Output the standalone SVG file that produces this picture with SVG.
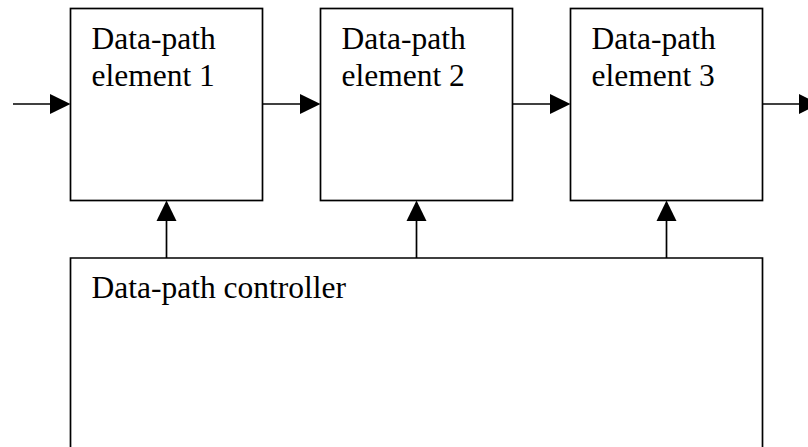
<svg xmlns="http://www.w3.org/2000/svg" width="808" height="447" viewBox="0 0 808 447">
<style>
.box{fill:#fff;stroke:#000;stroke-width:1.7}
.lbl{font-family:"Liberation Serif","Times New Roman",serif;font-size:31.5px;fill:#000}
.wire{stroke:#000;stroke-width:1.7;fill:none}
.head{fill:#000;stroke:none}
</style>
<rect width="808" height="447" fill="#fff"/>
<g id="element1">
<rect class="box" x="70.5" y="8.5" width="192" height="192"/>
<text class="lbl" x="91.5" y="48.5">Data-path</text>
<text class="lbl" x="91.5" y="85.5">element 1</text>
</g>
<g id="element2">
<rect class="box" x="320.5" y="8.5" width="192" height="192"/>
<text class="lbl" x="341.5" y="48.5">Data-path</text>
<text class="lbl" x="341.5" y="85.5">element 2</text>
</g>
<g id="element3">
<rect class="box" x="570.5" y="8.5" width="192" height="192"/>
<text class="lbl" x="591.5" y="48.5">Data-path</text>
<text class="lbl" x="591.5" y="85.5">element 3</text>
</g>
<g id="controller">
<path class="box" d="M70.5,460 V258 H762.5 V460"/>
<text class="lbl" x="91.5" y="297.5">Data-path controller</text>
</g>
<g id="connectors">
<line class="wire" x1="13" y1="104" x2="52" y2="104"/>
<polygon class="head" points="50,94 70.5,104 50,114"/>
<line class="wire" x1="262.5" y1="104" x2="302" y2="104"/>
<polygon class="head" points="300,94 320.5,104 300,114"/>
<line class="wire" x1="512.5" y1="104" x2="552" y2="104"/>
<polygon class="head" points="550,94 570.5,104 550,114"/>
<line class="wire" x1="762.5" y1="104" x2="802" y2="104"/>
<polygon class="head" points="799,94 819.5,104 799,114"/>
<line class="wire" x1="166.5" y1="258" x2="166.5" y2="218"/>
<polygon class="head" points="156.5,221 166.5,200.5 176.5,221"/>
<line class="wire" x1="416.5" y1="258" x2="416.5" y2="218"/>
<polygon class="head" points="406.5,221 416.5,200.5 426.5,221"/>
<line class="wire" x1="666.5" y1="258" x2="666.5" y2="218"/>
<polygon class="head" points="656.5,221 666.5,200.5 676.5,221"/>
</g>
</svg>
